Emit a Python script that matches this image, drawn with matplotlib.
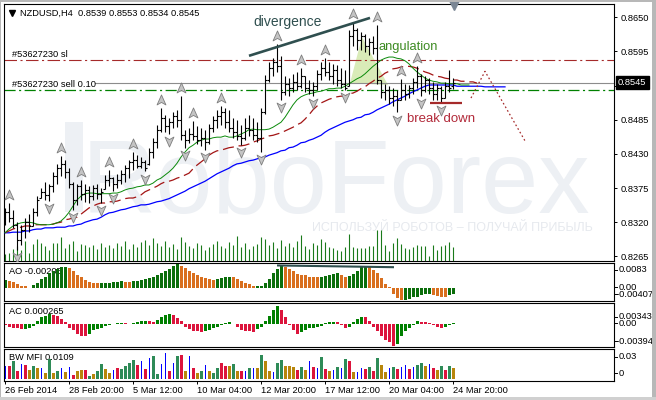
import numpy as np
import matplotlib
matplotlib.use("Agg")
import matplotlib.pyplot as plt
import matplotlib.transforms as mtransforms
from matplotlib.lines import Line2D
from matplotlib.patches import Rectangle, Polygon
from matplotlib.path import Path

plt.rcParams['font.family'] = ['Liberation Sans', 'DejaVu Sans']
plt.rcParams['lines.scale_dashes'] = False

# ---- NZDUSD H4 bars ----
open_p = [0.8324, 0.8336, 0.8327, 0.8316, 0.8291, 0.8308, 0.8320, 0.8314, 0.8336, 0.8359,
          0.8369, 0.8364, 0.8378, 0.8394, 0.8407, 0.8414, 0.8401, 0.8382, 0.8356, 0.8378,
          0.8366, 0.8372, 0.8362, 0.8375, 0.8366, 0.8374, 0.8388, 0.8391, 0.8382, 0.8388,
          0.8398, 0.8407, 0.8417, 0.8420, 0.8411, 0.8417, 0.8414, 0.8433, 0.8449, 0.8469,
          0.8488, 0.8475, 0.8481, 0.8491, 0.8485, 0.8460, 0.8452, 0.8462, 0.8459, 0.8452,
          0.8456, 0.8449, 0.8472, 0.8485, 0.8491, 0.8497, 0.8481, 0.8472, 0.8465, 0.8459,
          0.8456, 0.8472, 0.8469, 0.8460, 0.8456, 0.8497, 0.8549, 0.8568, 0.8578, 0.8571,
          0.8530, 0.8543, 0.8536, 0.8546, 0.8539, 0.8555, 0.8536, 0.8533, 0.8539, 0.8559,
          0.8568, 0.8562, 0.8555, 0.8565, 0.8549, 0.8543, 0.8539, 0.8620, 0.8630, 0.8614,
          0.8620, 0.8604, 0.8610, 0.8601, 0.8549, 0.8530, 0.8533, 0.8520, 0.8523, 0.8517,
          0.8533, 0.8527, 0.8536, 0.8546, 0.8555, 0.8533, 0.8549, 0.8536, 0.8527, 0.8536,
          0.8520, 0.8539, 0.8539]
high_p = [0.8343, 0.8351, 0.8340, 0.8320, 0.8316, 0.8327, 0.8333, 0.8343, 0.8362, 0.8375,
          0.8385, 0.8382, 0.8401, 0.8414, 0.8427, 0.8420, 0.8407, 0.8385, 0.8382, 0.8388,
          0.8382, 0.8378, 0.8380, 0.8382, 0.8375, 0.8396, 0.8404, 0.8393, 0.8398, 0.8404,
          0.8412, 0.8420, 0.8433, 0.8428, 0.8425, 0.8420, 0.8440, 0.8456, 0.8477, 0.8504,
          0.8493, 0.8488, 0.8497, 0.8501, 0.8523, 0.8469, 0.8472, 0.8483, 0.8475, 0.8472,
          0.8469, 0.8478, 0.8491, 0.8501, 0.8507, 0.8504, 0.8501, 0.8488, 0.8485, 0.8477,
          0.8488, 0.8493, 0.8488, 0.8481, 0.8504, 0.8557, 0.8578, 0.8584, 0.8607, 0.8588,
          0.8555, 0.8552, 0.8559, 0.8562, 0.8568, 0.8555, 0.8549, 0.8546, 0.8565, 0.8578,
          0.8584, 0.8578, 0.8575, 0.8573, 0.8568, 0.8565, 0.8630, 0.8642, 0.8633, 0.8626,
          0.8623, 0.8617, 0.8620, 0.8638, 0.8549, 0.8543, 0.8539, 0.8536, 0.8533, 0.8551,
          0.8543, 0.8541, 0.8552, 0.8571, 0.8559, 0.8555, 0.8552, 0.8546, 0.8543, 0.8539,
          0.8546, 0.8565, 0.8553]
low_p = [0.8316, 0.8320, 0.8311, 0.8275, 0.8283, 0.8295, 0.8304, 0.8314, 0.8330, 0.8359,
         0.8356, 0.8354, 0.8369, 0.8382, 0.8394, 0.8391, 0.8375, 0.8340, 0.8348, 0.8356,
         0.8353, 0.8351, 0.8356, 0.8358, 0.8351, 0.8374, 0.8378, 0.8370, 0.8375, 0.8382,
         0.8385, 0.8391, 0.8404, 0.8407, 0.8407, 0.8402, 0.8412, 0.8424, 0.8440, 0.8465,
         0.8465, 0.8462, 0.8472, 0.8473, 0.8452, 0.8440, 0.8448, 0.8452, 0.8446, 0.8443,
         0.8436, 0.8446, 0.8465, 0.8472, 0.8477, 0.8472, 0.8465, 0.8456, 0.8452, 0.8444,
         0.8452, 0.8459, 0.8452, 0.8449, 0.8433, 0.8494, 0.8546, 0.8555, 0.8562, 0.8517,
         0.8525, 0.8523, 0.8530, 0.8533, 0.8536, 0.8530, 0.8527, 0.8523, 0.8533, 0.8549,
         0.8555, 0.8549, 0.8543, 0.8539, 0.8536, 0.8533, 0.8539, 0.8604, 0.8597, 0.8597,
         0.8594, 0.8589, 0.8591, 0.8543, 0.8520, 0.8517, 0.8510, 0.8507, 0.8497, 0.8517,
         0.8517, 0.8520, 0.8527, 0.8536, 0.8523, 0.8530, 0.8527, 0.8517, 0.8517, 0.8512,
         0.8520, 0.8530, 0.8534]
close_p = [0.8336, 0.8327, 0.8316, 0.8291, 0.8308, 0.8320, 0.8314, 0.8336, 0.8356, 0.8369,
           0.8364, 0.8378, 0.8394, 0.8407, 0.8414, 0.8401, 0.8382, 0.8356, 0.8378, 0.8366,
           0.8372, 0.8362, 0.8375, 0.8366, 0.8369, 0.8388, 0.8391, 0.8382, 0.8388, 0.8398,
           0.8407, 0.8417, 0.8420, 0.8411, 0.8417, 0.8407, 0.8433, 0.8449, 0.8469, 0.8488,
           0.8475, 0.8481, 0.8491, 0.8485, 0.8460, 0.8452, 0.8462, 0.8459, 0.8452, 0.8456,
           0.8449, 0.8472, 0.8485, 0.8491, 0.8497, 0.8481, 0.8472, 0.8465, 0.8459, 0.8456,
           0.8472, 0.8469, 0.8460, 0.8456, 0.8497, 0.8549, 0.8568, 0.8578, 0.8571, 0.8530,
           0.8543, 0.8536, 0.8546, 0.8539, 0.8555, 0.8536, 0.8533, 0.8539, 0.8559, 0.8568,
           0.8562, 0.8555, 0.8565, 0.8549, 0.8543, 0.8536, 0.8620, 0.8630, 0.8614, 0.8620,
           0.8604, 0.8610, 0.8601, 0.8549, 0.8530, 0.8533, 0.8520, 0.8523, 0.8517, 0.8533,
           0.8527, 0.8536, 0.8546, 0.8555, 0.8533, 0.8549, 0.8536, 0.8527, 0.8536, 0.8520,
           0.8539, 0.8536, 0.8545]
volume = [700, 800, 1200, 1500, 1100, 2000, 800, 1700, 2200, 1800,
          1500, 1100, 1800, 1800, 2400, 1300, 1700, 2000, 1000, 1700,
          1600, 1400, 1600, 1200, 1800, 1400, 1600, 1300, 1800, 1500,
          2000, 1200, 1700, 1400, 1900, 2100, 1600, 2300, 1800, 1500,
          2000, 1400, 1700, 1200, 2400, 1900, 1500, 1300, 1800, 1600,
          1100, 1400, 1700, 2000, 1500, 1300, 1900, 1600, 2500, 1400,
          1800, 1200, 1500, 1700, 2400, 2200, 1600, 1900, 1300, 2100,
          1500, 1800, 1400, 2000, 2600, 1500, 1200, 1800, 1600, 2200,
          1900, 1400, 1300, 1100, 1000, 1400, 2700, 1400, 1300, 1300,
          1300, 1500, 1500, 3100, 3100, 1600, 1000, 1800, 2300, 1700,
          1300, 1200, 1400, 1600, 1500, 1500, 500, 1600, 1100, 1500,
          1600, 1900, 1400]

# Alligator lines (jaw / teeth / lips), shifted past the last bar
jaw = [0.8303, 0.8303, 0.8304, 0.8304, 0.8304, 0.8306, 0.8306, 0.8308, 0.8309, 0.8309,
       0.8311, 0.8311, 0.8311, 0.8312, 0.8312, 0.8312, 0.8314, 0.8314, 0.8316, 0.8317,
       0.8320, 0.8322, 0.8324, 0.8325, 0.8328, 0.8332, 0.8335, 0.8336, 0.8338, 0.8340,
       0.8341, 0.8343, 0.8345, 0.8346, 0.8348, 0.8348, 0.8349, 0.8351, 0.8353, 0.8354,
       0.8356, 0.8358, 0.8361, 0.8364, 0.8367, 0.8370, 0.8374, 0.8377, 0.8380, 0.8383,
       0.8386, 0.8390, 0.8394, 0.8398, 0.8401, 0.8404, 0.8407, 0.8411, 0.8414, 0.8415,
       0.8417, 0.8419, 0.8420, 0.8422, 0.8424, 0.8425, 0.8428, 0.8430, 0.8432, 0.8435,
       0.8436, 0.8440, 0.8441, 0.8444, 0.8448, 0.8449, 0.8452, 0.8454, 0.8457, 0.8460,
       0.8465, 0.8469, 0.8472, 0.8475, 0.8478, 0.8481, 0.8483, 0.8485, 0.8488, 0.8489,
       0.8493, 0.8494, 0.8497, 0.8501, 0.8504, 0.8507, 0.8510, 0.8514, 0.8517, 0.8520,
       0.8523, 0.8527, 0.8530, 0.8533, 0.8536, 0.8539, 0.8541, 0.8541, 0.8541, 0.8541,
       0.8541, 0.8541, 0.8541, 0.8539, 0.8539, 0.8539, 0.8539, 0.8539, 0.8539, 0.8539,
       0.8538, 0.8538, 0.8538, 0.8538, 0.8538, 0.8538]
teeth = [0.8303, 0.8306, 0.8309, 0.8311, 0.8312, 0.8314, 0.8314, 0.8316, 0.8316, 0.8316,
         0.8316, 0.8316, 0.8317, 0.8319, 0.8320, 0.8324, 0.8325, 0.8327, 0.8328, 0.8333,
         0.8338, 0.8343, 0.8346, 0.8349, 0.8351, 0.8351, 0.8353, 0.8353, 0.8354, 0.8356,
         0.8358, 0.8359, 0.8359, 0.8361, 0.8364, 0.8369, 0.8372, 0.8375, 0.8378, 0.8382,
         0.8385, 0.8386, 0.8388, 0.8391, 0.8393, 0.8396, 0.8399, 0.8406, 0.8412, 0.8417,
         0.8422, 0.8428, 0.8432, 0.8435, 0.8436, 0.8438, 0.8440, 0.8441, 0.8443, 0.8443,
         0.8444, 0.8446, 0.8449, 0.8451, 0.8454, 0.8456, 0.8459, 0.8460, 0.8462, 0.8464,
         0.8467, 0.8470, 0.8473, 0.8477, 0.8480, 0.8486, 0.8493, 0.8501, 0.8507, 0.8512,
         0.8515, 0.8518, 0.8520, 0.8522, 0.8523, 0.8523, 0.8527, 0.8528, 0.8531, 0.8535,
         0.8538, 0.8543, 0.8547, 0.8552, 0.8555, 0.8560, 0.8563, 0.8567, 0.8568, 0.8570,
         0.8571, 0.8571, 0.8570, 0.8568, 0.8565, 0.8562, 0.8560, 0.8557, 0.8555, 0.8554,
         0.8552, 0.8551, 0.8549, 0.8549, 0.8547, 0.8547, 0.8546, 0.8546, 0.8544]
lips = [0.8303, 0.8309, 0.8314, 0.8317, 0.8319, 0.8320, 0.8320, 0.8319, 0.8317, 0.8316,
        0.8316, 0.8316, 0.8317, 0.8319, 0.8322, 0.8328, 0.8336, 0.8346, 0.8356, 0.8362,
        0.8366, 0.8367, 0.8367, 0.8366, 0.8366, 0.8366, 0.8366, 0.8367, 0.8367, 0.8369,
        0.8372, 0.8374, 0.8375, 0.8377, 0.8378, 0.8380, 0.8380, 0.8383, 0.8388, 0.8391,
        0.8396, 0.8401, 0.8407, 0.8415, 0.8425, 0.8433, 0.8440, 0.8444, 0.8449, 0.8452,
        0.8454, 0.8454, 0.8456, 0.8457, 0.8457, 0.8459, 0.8457, 0.8457, 0.8459, 0.8462,
        0.8465, 0.8469, 0.8470, 0.8469, 0.8469, 0.8469, 0.8470, 0.8473, 0.8477, 0.8481,
        0.8489, 0.8499, 0.8509, 0.8517, 0.8522, 0.8525, 0.8527, 0.8528, 0.8530, 0.8531,
        0.8533, 0.8535, 0.8535, 0.8536, 0.8536, 0.8539, 0.8543, 0.8547, 0.8551, 0.8554,
        0.8559, 0.8565, 0.8571, 0.8576, 0.8581, 0.8584, 0.8586, 0.8586, 0.8584, 0.8583,
        0.8580, 0.8575, 0.8568, 0.8562, 0.8557, 0.8552, 0.8549, 0.8547, 0.8546, 0.8544,
        0.8544, 0.8543, 0.8543, 0.8543, 0.8541, 0.8541, 0.8541]

frac_up = [1, 14, 19, 26, 32, 39, 44, 47, 54, 68, 74, 80, 87, 93, 99, 103]
frac_dn = [3, 11, 17, 24, 27, 35, 41, 45, 50, 59, 64, 69, 77, 85, 98, 104, 109]

ao = [0.0029, 0.0025, 0.0021, 0.0014, 0.0009, 0.0006, 0.0002, 0.0012, 0.0018, 0.0032,
      0.0040, 0.0052, 0.0060, 0.0066, 0.0071, 0.0072, 0.0069, 0.0060, 0.0046, 0.0037,
      0.0028, 0.0020, 0.0017, 0.0016, 0.0017, 0.0018, 0.0019, 0.0021, 0.0022, 0.0023,
      0.0022, 0.0021, 0.0024, 0.0026, 0.0028, 0.0031, 0.0034, 0.0038, 0.0044, 0.0052,
      0.0060, 0.0066, 0.0075, 0.0083, 0.0076, 0.0070, 0.0060, 0.0052, 0.0045, 0.0040,
      0.0036, 0.0032, 0.0029, 0.0031, 0.0034, 0.0037, 0.0040, 0.0037, 0.0032, 0.0023,
      0.0017, 0.0015, 0.0006, 0.0007, 0.0008, 0.0016, 0.0030, 0.0052, 0.0066, 0.0075,
      0.0071, 0.0067, 0.0058, 0.0047, 0.0045, 0.0044, 0.0040, 0.0038, 0.0037, 0.0038,
      0.0041, 0.0045, 0.0047, 0.0052, 0.0045, 0.0040, 0.0041, 0.0048, 0.0060, 0.0072,
      0.0074, 0.0071, 0.0063, 0.0052, 0.0036, 0.0015, 0.0003, -0.0019, -0.0035, -0.00407,
      -0.0040, -0.0036, -0.0032, -0.0029, -0.0024, -0.0021, -0.0020, -0.0022, -0.0026, -0.0030,
      -0.0031, -0.0025, -0.00205]
ac = [-0.0002, -0.0004, -0.0006, -0.0007, -0.0009, -0.0008, -0.0006, -0.0003, 0.0007, 0.0013,
      0.0016, 0.0019, 0.0017, 0.0015, 0.0010, 0.0005, -0.0006, -0.0010, -0.0017, -0.0021,
      -0.0022, -0.0017, -0.0011, -0.0008, -0.0006, -0.0003, -0.0001, 0.0001, 0.0002, 0.0003,
      0.0002, 0.0001, 0.0002, 0.0004, 0.0006, 0.0007, 0.0006, 0.0004, 0.0008, 0.0013,
      0.0017, 0.0019, 0.0017, 0.0012, 0.0006, -0.0005, -0.0009, -0.0012, -0.0013, -0.0014,
      -0.0012, -0.0010, -0.0007, -0.0004, -0.0001, 0.0003, 0.0005, 0.0001, -0.0004, -0.0011,
      -0.0012, -0.0013, -0.0015, -0.0008, -0.0004, 0.0007, 0.0016, 0.0026, 0.003439, 0.0027,
      0.0014, -0.0001, -0.0011, -0.0017, -0.0015, -0.0010, -0.0007, -0.0006, -0.0004, -0.0003,
      0.0002, 0.0004, 0.0005, 0.0004, -0.0001, -0.0006, -0.0004, 0.0004, 0.0010, 0.0014,
      0.0013, 0.0006, -0.0004, -0.0012, -0.0021, -0.0028, -0.0032, -0.00394, -0.0036, -0.0022,
      -0.0013, -0.0007, -0.0001, 0.0006, 0.0005, 0.0004, 0.0002, -0.0002, -0.0005, -0.0006,
      -0.0005, -0.0001, 0.000265]
mfi = [0.0129, 0.0129, 0.0181, 0.0077, 0.0153, 0.0139, 0.0087, 0.0136, 0.0111, 0.0111,
       0.0059, 0.0205, 0.0059, 0.0077, 0.0111, 0.0066, 0.0122, 0.0042, 0.0077, 0.0087,
       0.0087, 0.0031, 0.0052, 0.0084, 0.0153, 0.0101, 0.0059, 0.0094, 0.0111, 0.0101,
       0.0129, 0.0164, 0.0198, 0.0143, 0.0181, 0.0101, 0.0209, 0.0237, 0.0049, 0.0153,
       0.0268, 0.0077, 0.0164, 0.0233, 0.0244, 0.0084, 0.0233, 0.0111, 0.0059, 0.0077,
       0.0139, 0.0077, 0.0059, 0.0111, 0.0164, 0.0136, 0.0136, 0.0153, 0.0077, 0.0077,
       0.0084, 0.0111, 0.0111, 0.0111, 0.0247, 0.0184, 0.0080, 0.0070, 0.0164, 0.0195,
       0.0136, 0.0136, 0.0122, 0.0090, 0.0122, 0.0090, 0.0184, 0.0122, 0.0111, 0.0226,
       0.0101, 0.0080, 0.0090, 0.0122, 0.0111, 0.0205, 0.0184, 0.0070, 0.0070, 0.0111,
       0.0101, 0.0122, 0.0080, 0.0216, 0.0146, 0.0070, 0.0111, 0.0122, 0.0101, 0.0122,
       0.0143, 0.0101, 0.0122, 0.0143, 0.0164, 0.0136, 0.0153, 0.0111, 0.0090, 0.0132,
       0.0090, 0.0132, 0.0109]
# g = green, y = brown/gold, b = blue, r = pink/red
mfi_col = ("brgrbrygyb" "ygygbybryy" "rgyggyybrg" "gggrbrbggb" "brbgrybryg"
           "byggrrygyr" "bgbygyybgg" "yyyrgybrbg" "rybgbgrybb" "rgrgyybgrb"
           "brbggybryg" "rgy")

date_idx = [0, 16, 32, 48, 64, 80, 96, 112]
date_lab = ["26 Feb 2014", "28 Feb 20:00", "5 Mar 12:00", "10 Mar 04:00",
            "12 Mar 20:00", "17 Mar 12:00", "20 Mar 04:00", "24 Mar 20:00"]
price_ticks = [0.8265, 0.8320, 0.8375, 0.8430, 0.8485, 0.8540, 0.8595, 0.8650]

sl_price = 0.8582
sell_price = 0.8533
bid_price = 0.8545

# hand-drawn analysis objects
div_x, div_y = [61, 91.25], [0.8588, 0.8649]
ao_div_x, ao_div_y = [68, 97.25], [0.0078, 0.0072]
ang_x, ang_y = [86.25, 89.25, 95.75], [0.8544, 0.8618, 0.8541]
brk_x, brk_y = [106.25, 114.25], [0.8512, 0.8512]
proj_x, proj_y = [116.5, 120, 130], [0.8520, 0.8563, 0.8451]

# ---- figure ----
W, H = 656, 400
FS = 6.7
fig = plt.figure(figsize=(W / 100, H / 100), dpi=100)
fig.patch.set_facecolor('white')


def box(l, t, r, b):
    return [l / W, 1 - b / H, (r - l) / W, (b - t) / H]


def fp(x, y):
    return x / W, 1 - y / H


ax = fig.add_axes(box(4, 4, 614, 261))
ao_ax = fig.add_axes(box(4, 263, 614, 301))
ac_ax = fig.add_axes(box(4, 303, 614, 347))
mfi_ax = fig.add_axes(box(4, 349, 614, 381))

for a in (ax, ao_ax, ac_ax, mfi_ax):
    for s in a.spines.values():
        s.set_linewidth(0.8)
        s.set_color('black')
    a.tick_params(axis='x', bottom=False, labelbottom=False)
    a.tick_params(axis='y', left=False, labelleft=False, right=False, labelright=False)

n = len(close_p)
idx = np.arange(n)

# watermark
ax.add_patch(Rectangle(fp(65, 212), 18 / W, 90 / H, transform=fig.transFigure,
                       color='#edf0f4', zorder=0.2, lw=0))
ax.text(*fp(82, 212), "RoboForex", transform=fig.transFigure, fontsize=74,
        color='#edf0f4', va='baseline', ha='left', zorder=0.3)
ax.text(*fp(312, 228), "ИСПОЛЬЗУЙ РОБОТОВ – ПОЛУЧАЙ ПРИБЫЛЬ", transform=fig.transFigure,
        fontsize=9, color='#e6e9ee', va='center', ha='left', zorder=0.3)

# angulation shading
ax.add_patch(Polygon(list(zip(ang_x, ang_y)), closed=True, fc='#d9ebb8', ec='none', zorder=1))

# volumes at the bottom of the price window (100 ticks per pixel)
vtr = mtransforms.blended_transform_factory(ax.transData, ax.transAxes)
ax.vlines(idx, 0, np.array(volume) / 25700, transform=vtr, color='#1a7a1a', lw=0.8, zorder=1.2)

# order lines
ax.axhline(sl_price, color='#a52a2a', lw=0.8, ls=(0, (9, 2.5, 1.5, 2.5)), zorder=1.5)
ax.axhline(sell_price, color='#008000', lw=0.9, ls=(0, (8, 2.5, 1.5, 2.5)), zorder=1.5)
ax.axhline(bid_price, xmin=(95 - 4) / 610, color='#8c8c8c', lw=0.8, zorder=1.5)
ytr = mtransforms.blended_transform_factory(ax.transAxes, ax.transData)
ax.text(8 / 610, sl_price + 0.00043, "#53627230 sl", transform=ytr, fontsize=FS,
        va='baseline', ha='left', zorder=6)
ax.text(8 / 610, sell_price + 0.00043, "#53627230 sell 0.10", transform=ytr, fontsize=FS,
        va='baseline', ha='left', zorder=6)

# alligator
ax.plot(np.arange(len(jaw)), jaw, color='#0000ff', lw=0.9, zorder=3)
ax.plot(np.arange(len(teeth)), teeth, color='#a31515', lw=0.9, ls=(0, (8, 3.5)), zorder=3)
ax.plot(np.arange(len(lips)), lips, color='#0a8a0a', lw=0.7, zorder=3)

# OHLC bars
ax.vlines(idx, low_p, high_p, color='black', lw=0.8, zorder=4)
ax.hlines(open_p, idx - 0.45, idx, color='black', lw=0.8, zorder=4)
ax.hlines(close_p, idx, idx + 0.45, color='black', lw=0.8, zorder=4)

# fractals
up_m = Path([(0, 1), (0.8, -0.8), (0, -0.35), (-0.8, -0.8), (0, 1)],
            [Path.MOVETO, Path.LINETO, Path.LINETO, Path.LINETO, Path.CLOSEPOLY])
dn_m = Path([(0, -1), (0.8, 0.8), (0, 0.35), (-0.8, 0.8), (0, -1)],
            [Path.MOVETO, Path.LINETO, Path.LINETO, Path.LINETO, Path.CLOSEPOLY])
tr_up = mtransforms.offset_copy(ax.transData, fig=fig, y=5.8, units='points')
tr_dn = mtransforms.offset_copy(ax.transData, fig=fig, y=-5.2, units='points')
ax.plot(frac_up, [high_p[i] for i in frac_up], ls='none', marker=up_m, ms=8,
        mfc='#c4c4c4', mec='#7d7d7d', mew=0.6, transform=tr_up, zorder=5)
ax.plot(frac_dn, [low_p[i] for i in frac_dn], ls='none', marker=dn_m, ms=8,
        mfc='#c4c4c4', mec='#7d7d7d', mew=0.6, transform=tr_dn, zorder=5)

# analysis drawings
ax.plot(div_x, div_y, color='#2f4f4f', lw=1.9, solid_capstyle='butt', zorder=6)
ax.plot(brk_x, brk_y, color='#a52a2a', lw=1.6, solid_capstyle='butt', zorder=6)
ax.plot(proj_x, proj_y, color='#a52a2a', lw=0.9, ls=(0, (1.2, 1.8)), zorder=6)
ax.text(70.75, 0.8642, "divergence", fontsize=10, color='#2f4f4f', ha='center', va='center', zorder=6)
ax.text(100.9, 0.8602, "angulation", fontsize=9.3, color='#3d8b22', ha='center', va='center', zorder=6)
ax.text(109, 0.8486, "break down", fontsize=9.5, color='#b22a3a', ha='center', va='center', zorder=6)

# price scale
ax.yaxis.tick_right()
ax.set_yticks(price_ticks)
ax.set_yticklabels(["%.4f" % p for p in price_ticks])
ax.tick_params(axis='y', right=True, labelright=True, length=2.2, width=0.7,
               pad=2.5, labelsize=FS)
ax.text(1 + 4 / 610, bid_price, "0.8545", transform=ytr, fontsize=FS, color='white',
        ha='left', va='center', zorder=7,
        bbox=dict(boxstyle='square,pad=0.25', fc='black', ec='black'))

ax.set_xlim(-0.25, 152.25)
ax.set_ylim(0.82576, 0.86714)

fig.text(*fp(20, 13), "NZDUSD,H4  0.8539 0.8553 0.8534 0.8545", fontsize=FS, va='center', ha='left')
fig.add_artist(Line2D([12 / W], [1 - 13 / H], marker='v', ms=4.5, color='black',
                      transform=fig.transFigure))
fig.add_artist(Line2D([454 / W], [1 - 5 / H], marker='v', ms=7, color='#7a8694',
                      transform=fig.transFigure))

# AO
ao_arr = np.array(ao)
ao_up = np.r_[True, ao_arr[1:] > ao_arr[:-1]]
ao_ax.text(*fp(9, 271), "AO -0.00205", transform=fig.transFigure, fontsize=FS, va='center', zorder=0)
ao_ax.bar(idx, ao_arr, width=0.75, color=np.where(ao_up, '#0b6e0b', '#d96f1e'), lw=0, zorder=2)
ao_ax.plot(ao_div_x, ao_div_y, color='#2f4f4f', lw=1.5, solid_capstyle='butt', zorder=3)
ao_ax.set_xlim(-0.25, 152.25)
ao_ax.set_ylim(-0.00441, 0.00864)

# AC
ac_arr = np.array(ac)
ac_up = np.r_[False, ac_arr[1:] > ac_arr[:-1]]
ac_ax.text(*fp(9, 312), "AC 0.000265", transform=fig.transFigure, fontsize=FS, va='center', zorder=0)
ac_ax.bar(idx, ac_arr, width=0.75, color=np.where(ac_up, '#008000', '#dc143c'), lw=0, zorder=2)
ac_ax.set_xlim(-0.25, 152.25)
ac_ax.set_ylim(-0.00418, 0.00394)

# BW MFI
cmap = {'g': '#2e8b57', 'y': '#b8860b', 'b': '#0000ff', 'r': '#dc143c'}
mfi_ax.text(*fp(9, 358), "BW MFI 0.0109", transform=fig.transFigure, fontsize=FS, va='center', zorder=0)
widths = [0.25 if c == 'b' else 0.75 for c in mfi_col]
mfi_ax.bar(idx, mfi, width=widths, color=[cmap[c] for c in mfi_col], lw=0, zorder=2)
mfi_ax.set_xlim(-0.25, 152.25)
mfi_ax.set_ylim(-0.0023, 0.0306)

# indicator scale labels
for y, s in [(270, "0.0083"), (287.3, "0.00"), (294.3, "-0.00407"),
             (316.7, "0.003439"), (323.3, "0.00"), (341, "-0.00394"),
             (356.7, "0.03"), (373.3, "0")]:
    x0 = 617 if s.startswith('-') else 619
    fig.text(*fp(x0, y), s, fontsize=FS, va='center', ha='left')
    fig.add_artist(Line2D([614 / W, 617 / W], [1 - y / H] * 2, color='black', lw=0.7,
                          transform=fig.transFigure))

# time axis
mfi_ax.set_xticks(date_idx)
mfi_ax.set_xticklabels(date_lab)
mfi_ax.tick_params(axis='x', bottom=True, labelbottom=True, length=2.5, width=0.7,
                   pad=0.8, labelsize=FS)
for t in mfi_ax.get_xticklabels():
    t.set_ha('left')

# window frame
for r in [(0, 0, 1, 1.5 / H), (0, 0, 1.2 / W, 1), (652 / W, 0, 4 / W, 1), (0, 1 - 1.5 / H, 1, 1.5 / H)]:
    fig.patches.append(Rectangle((r[0], r[1]), r[2], r[3], transform=fig.transFigure,
                                 color='#b8b8b8', lw=0, zorder=10))
fig.patches.append(Rectangle((0, 0), 1, 3 / H, transform=fig.transFigure,
                             color='#d0d0d0', lw=0, zorder=10))

fig.savefig('out.png', dpi=100)
